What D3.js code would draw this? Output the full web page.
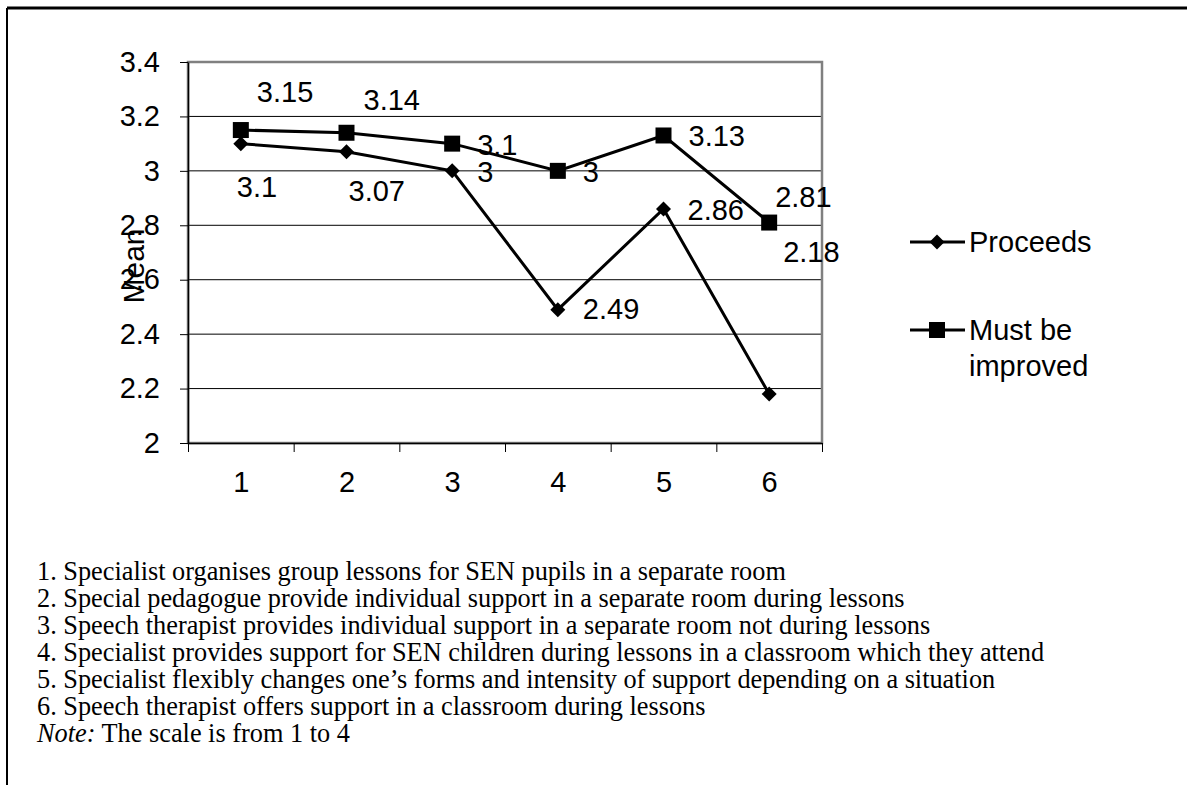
<!DOCTYPE html>
<html>
<head>
<meta charset="UTF-8">
<title>Mean</title>
<script src="https://cdn.jsdelivr.net/npm/d3@7"></script>
<style>
  body { margin: 0; background: #fff; }
  svg { display: block; }
</style>
</head>
<body>
<script>
// values
var categories = [1, 2, 3, 4, 5, 6];
var proceeds = [3.1, 3.07, 3, 2.49, 2.86, 2.18];
var mustImprove = [3.15, 3.14, 3.1, 3, 3.13, 2.81];
var yTicks = [2, 2.2, 2.4, 2.6, 2.8, 3, 3.2, 3.4];
var seriesNames = ["Proceeds", "Must be improved"];
var notes = [
  "1. Specialist organises group lessons for SEN pupils in a separate room",
  "2. Special pedagogue provide individual support in a separate room during lessons",
  "3. Speech therapist provides individual support in a separate room not during lessons",
  "4. Specialist provides support for SEN children during lessons in a classroom which they attend",
  "5. Specialist flexibly changes one\u2019s forms and intensity of support depending on a situation",
  "6. Speech therapist offers support in a classroom during lessons"
];

// where excel put the data labels (dx to left edge, dy to middle), relative to the point
var proceedsLabelOff = [[-4, 43], [2, 39], [25, 1], [25, -1], [24, 1], [14, -142]];
var mustLabelOff = [[16, -38], [17, -33], [25, 1], [25, 1], [25, 0], [6, -26]];

(function () {
  var W = 1187, H = 785;
  var svg = d3.select("body").append("svg")
      .attr("width", W)
      .attr("height", H);

  // page frame (top + left only)
  svg.append("line").attr("x1", 7).attr("x2", W).attr("y1", 8).attr("y2", 8)
      .attr("stroke", "#000").attr("stroke-width", 3);
  svg.append("line").attr("x1", 7).attr("x2", 7).attr("y1", 8).attr("y2", H)
      .attr("stroke", "#000").attr("stroke-width", 2);

  var pLeft = 188, pRight = 822, pTop = 62, pBottom = 443;

  var x = d3.scaleLinear().domain([0.5, 6.5]).range([pLeft, pRight]);
  var y = d3.scaleLinear().domain([2, 3.4]).range([pBottom, pTop]);

  // gridlines
  svg.append("g").selectAll("line")
      .data(yTicks.filter(function (d) { return d > 2 && d < 3.4; }))
      .enter().append("line")
      .attr("x1", pLeft).attr("x2", pRight)
      .attr("y1", function (d) { return y(d); })
      .attr("y2", function (d) { return y(d); })
      .attr("stroke", "#000").attr("stroke-width", 1);

  // plot area border
  svg.append("rect")
      .attr("x", pLeft).attr("y", pTop)
      .attr("width", pRight - pLeft).attr("height", pBottom - pTop)
      .attr("fill", "none").attr("stroke", "#808080").attr("stroke-width", 2.5);

  var font = "Liberation Sans, Arial, sans-serif";
  var fs = 29;

  // y axis
  var yAxis = svg.append("g")
      .attr("transform", "translate(" + pLeft + ",0)")
      .call(d3.axisLeft(y).tickValues(yTicks).tickSizeInner(8).tickSizeOuter(0)
          .tickPadding(20).tickFormat(function (d) { return String(d); }));
  yAxis.select(".domain").attr("stroke", "#000").attr("stroke-width", 1.5);
  yAxis.selectAll("text").attr("font-family", font).attr("font-size", fs).attr("fill", "#000");

  // x axis: tick marks between categories, labels under the middle
  var xTicks = svg.append("g")
      .attr("transform", "translate(0," + pBottom + ")")
      .call(d3.axisBottom(x).tickValues(d3.range(0.5, 7, 1)).tickSizeInner(9)
          .tickSizeOuter(0).tickFormat(""));
  xTicks.select(".domain").attr("stroke", "#000").attr("stroke-width", 1.5);

  var xLabels = svg.append("g")
      .attr("transform", "translate(0," + pBottom + ")")
      .call(d3.axisBottom(x).tickValues(categories).tickSize(0).tickPadding(28)
          .tickFormat(function (d) { return String(d); }));
  xLabels.select(".domain").remove();
  xLabels.selectAll("text").attr("font-family", font).attr("font-size", fs).attr("fill", "#000");

  // axis title
  svg.append("text")
      .attr("transform", "translate(133,266) rotate(-90)")
      .attr("text-anchor", "middle")
      .attr("dy", "0.35em")
      .attr("font-family", font).attr("font-size", 30)
      .text("Mean");

  var line = d3.line()
      .x(function (d, i) { return x(categories[i]); })
      .y(function (d) { return y(d); });

  var diamond = "M0,-7.5L7.5,0L0,7.5L-7.5,0Z";
  var square = "M-8,-8H8V8H-8Z";

  function drawSeries(vals, shape, offs) {
    var g = svg.append("g");
    g.append("path").datum(vals)
        .attr("d", line)
        .attr("fill", "none").attr("stroke", "#000").attr("stroke-width", 3);
    g.selectAll(".mk").data(vals).enter().append("path")
        .attr("class", "mk")
        .attr("d", shape)
        .attr("transform", function (d, i) {
          return "translate(" + x(categories[i]) + "," + y(d) + ")";
        })
        .attr("fill", "#000");
    g.selectAll(".lb").data(vals).enter().append("text")
        .attr("class", "lb")
        .attr("x", function (d, i) { return x(categories[i]) + offs[i][0]; })
        .attr("y", function (d, i) { return y(d) + offs[i][1]; })
        .attr("dy", "0.35em")
        .attr("font-family", font).attr("font-size", fs)
        .text(function (d) { return String(d); });
  }

  drawSeries(proceeds, diamond, proceedsLabelOff);
  drawSeries(mustImprove, square, mustLabelOff);

  // legend
  var legend = svg.append("g").attr("transform", "translate(910,0)");
  var legRows = [
    { shape: diamond, y: 242, lines: [seriesNames[0]] },
    { shape: square, y: 330, lines: ["Must be", "improved"] }
  ];
  legRows.forEach(function (r) {
    legend.append("line").attr("x1", 0).attr("x2", 55).attr("y1", r.y).attr("y2", r.y)
        .attr("stroke", "#000").attr("stroke-width", 3);
    legend.append("path").attr("d", r.shape)
        .attr("transform", "translate(27," + r.y + ")").attr("fill", "#000");
    var t = legend.append("text")
        .attr("x", 59).attr("y", r.y)
        .attr("font-family", font).attr("font-size", fs);
    r.lines.forEach(function (s, k) {
      t.append("tspan").attr("x", 59).attr("dy", k === 0 ? "0.35em" : "1.25em").text(s);
    });
  });

  // explanation under the chart
  var notesG = svg.append("g").attr("font-family", "Liberation Serif, Times New Roman, serif")
      .attr("font-size", 26.3);
  var base = 580, step = 27;
  notesG.selectAll("text").data(notes).enter().append("text")
      .attr("x", 37)
      .attr("y", function (d, i) { return base + i * step; })
      .text(function (d) { return d; });
  var noteLine = notesG.append("text").attr("x", 37).attr("y", base + 6 * step);
  noteLine.append("tspan").attr("font-style", "italic").text("Note:");
  noteLine.append("tspan").text(" The scale is from 1 to 4");
})();
</script>
</body>
</html>
